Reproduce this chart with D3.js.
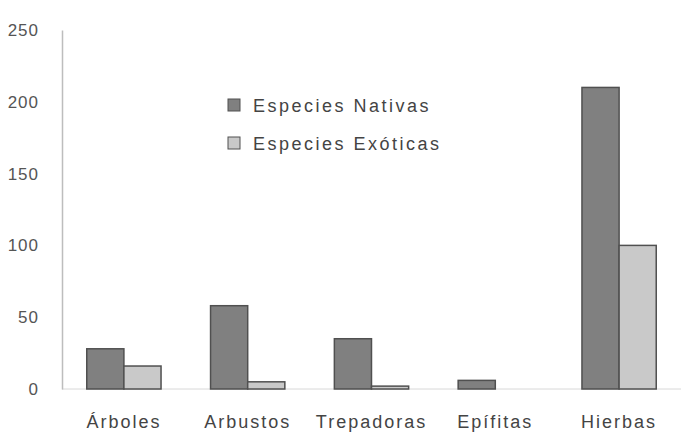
<!DOCTYPE html>
<html>
<head>
<meta charset="utf-8">
<script src="https://cdn.jsdelivr.net/npm/d3@7"></script>
<style>
  html, body { margin: 0; padding: 0; background: #fff; }
  svg { display: block; font-family: "Liberation Sans", Arial, sans-serif; }
</style>
</head>
<body>
<svg id="chart" width="699" height="435"></svg>
<script>
// Number of plant species by growth form
const categories = ["Árboles", "Arbustos", "Trepadoras", "Epífitas", "Hierbas"];
const nativas = [28, 58, 35, 6, 210];
const exoticas = [16, 5, 2, 0, 100];
const seriesNames = ["Especies Nativas", "Especies Exóticas"];
const yTicks = [0, 50, 100, 150, 200, 250];

const width = 699, height = 435;
const margin = { top: 30, right: 18, bottom: 46, left: 62 };
const svg = d3.select("#chart");

const x = d3.scaleBand()
  .domain(categories)
  .range([margin.left, width - margin.right])
  .paddingInner(0.4)
  .paddingOuter(0.2);

const xSub = d3.scaleBand()
  .domain(seriesNames)
  .range([0, x.bandwidth()]);

const y = d3.scaleLinear()
  .domain([0, 250])
  .range([height - margin.bottom, margin.top]);

const fills = { "Especies Nativas": "#808080", "Especies Exóticas": "#c9c9c9" };
const stroke = "#505050";

// faint baseline
svg.append("line")
  .attr("x1", margin.left).attr("x2", width - margin.right)
  .attr("y1", y(0)).attr("y2", y(0))
  .attr("stroke", "#d8d8d8").attr("stroke-width", 1);

// y axis
const yAxis = d3.axisLeft(y).tickValues(yTicks).tickSize(0).tickPadding(23);
const gy = svg.append("g")
  .attr("transform", `translate(${margin.left},0)`)
  .call(yAxis);
gy.select(".domain").attr("stroke", "#bdbdbd").attr("stroke-width", 1.5);
gy.selectAll("text")
  .attr("fill", "#555")
  .style("font-size", "17px")
  .style("letter-spacing", "1px");

// x axis labels
const xAxis = d3.axisBottom(x).tickSize(0).tickPadding(26);
const gx = svg.append("g")
  .attr("transform", `translate(0,${y(0)})`)
  .call(xAxis);
gx.select(".domain").remove();
gx.selectAll("text")
  .attr("fill", "#444")
  .style("font-size", "18px")
  .style("letter-spacing", "2px");

// bars
const rows = categories.map((c, i) => ({
  cat: c,
  vals: [
    { key: seriesNames[0], v: nativas[i] },
    { key: seriesNames[1], v: exoticas[i] }
  ]
}));

const groups = svg.append("g").selectAll("g")
  .data(rows).join("g")
  .attr("transform", d => `translate(${x(d.cat)},0)`);

groups.selectAll("rect")
  .data(d => d.vals.filter(v => v.v > 0))
  .join("rect")
  .attr("x", d => xSub(d.key))
  .attr("width", xSub.bandwidth())
  .attr("y", d => y(d.v))
  .attr("height", d => y(0) - y(d.v))
  .attr("fill", d => fills[d.key])
  .attr("stroke", stroke)
  .attr("stroke-width", 1.5);

// legend
const legend = svg.append("g").attr("transform", "translate(228,99)");
seriesNames.forEach((name, i) => {
  const g = legend.append("g").attr("transform", `translate(0,${i * 38})`);
  g.append("rect")
    .attr("width", 12).attr("height", 12)
    .attr("fill", fills[name])
    .attr("stroke", stroke).attr("stroke-width", 1);
  g.append("text")
    .attr("x", 25).attr("y", 13)
    .attr("fill", "#444")
    .style("font-size", "18px")
    .style("letter-spacing", "2.5px")
    .text(name);
});
</script>
</body>
</html>
